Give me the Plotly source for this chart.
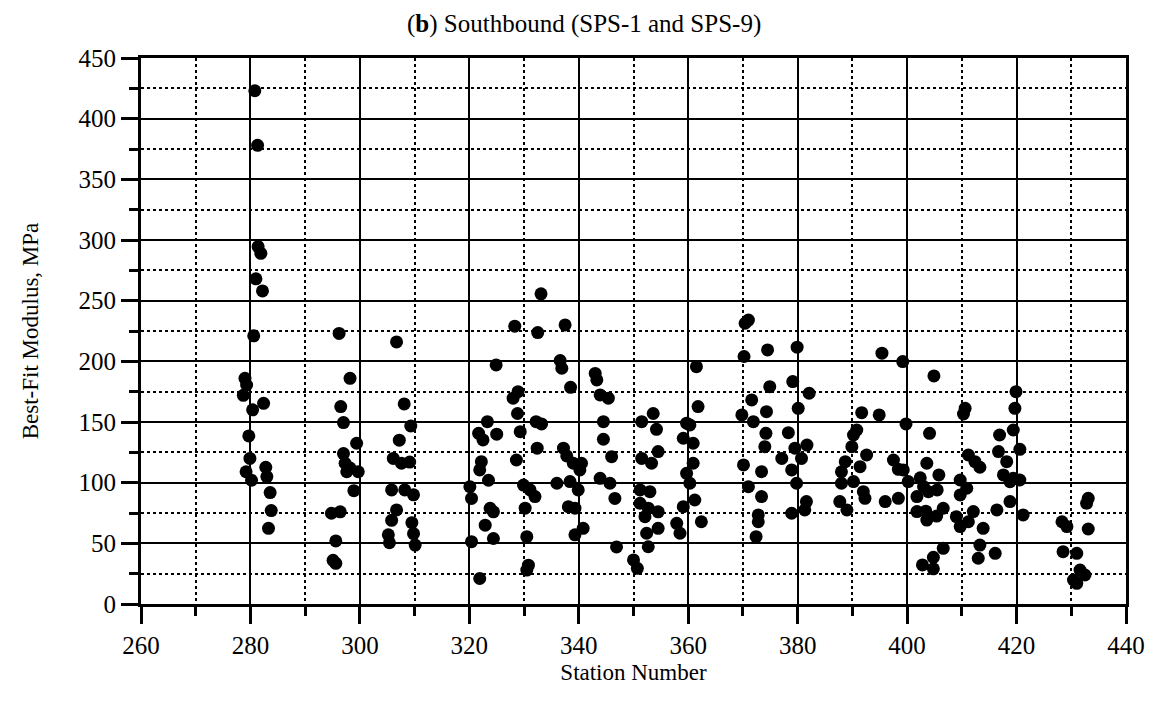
import plotly.graph_objects as go

# Station numbers and best-fit moduli (MPa)
station = [
    278.7, 279.0, 279.3, 279.7, 279.9, 279.2, 280.2, 280.4, 280.6, 280.8, 281.3, 281.4, 281.9, 281.0, 282.2,
    282.4, 282.8, 283.0, 283.6, 283.8, 283.3,
    294.8, 296.4, 295.6, 295.1, 295.6, 296.2, 298.2, 296.5, 297.0, 299.4, 297.0, 297.3, 298.2, 299.7, 297.6, 298.9,
    306.7, 308.1, 309.3, 307.2, 306.1, 307.6, 309.1, 305.8, 308.2, 309.8, 306.7, 305.8, 309.5, 309.8, 305.2, 305.4, 310.1,
    320.1, 320.4, 320.4, 321.9, 321.7, 322.5, 322.2, 321.9, 322.9, 323.3, 323.5, 323.8, 324.4, 324.4, 324.9, 325.0,
    328.3, 328.0, 328.9, 328.8, 329.3, 328.6, 329.9, 330.2, 330.5, 330.8, 330.5, 331.1, 332.0,
    333.1, 332.5, 332.2, 333.2, 332.4,
    336.0, 336.6, 336.9, 337.5, 337.2, 337.8, 338.4, 338.1, 338.5, 339.0, 339.3, 339.3, 339.9, 340.2, 340.5, 340.8,
    343.0, 343.3, 343.9, 343.9, 344.5, 344.5, 345.4, 345.7, 346.0, 346.6, 346.9,
    350.0, 350.7, 351.2, 351.2, 351.5, 351.5, 352.1, 352.4, 352.7, 352.7, 353.0, 353.3, 353.6, 354.2, 354.5, 354.5,
    354.5, 357.9, 358.5, 359.1, 359.1, 359.7, 359.7, 360.3, 360.3, 360.9, 360.9, 361.2, 361.5, 361.8, 362.4,
    369.8, 370.1, 370.2, 370.4, 371.0, 371.0, 371.6, 371.9, 372.4, 372.8, 372.8, 373.4, 373.4, 374.0, 374.2, 374.3,
    374.5, 374.9, 377.1, 378.3, 378.9, 378.9, 379.1, 379.5, 379.8, 379.9, 380.1, 380.7, 381.3, 381.6, 381.7, 382.1,
    387.7, 388.0, 388.0, 388.7, 389.0, 389.9, 390.2, 390.2, 390.8, 391.4, 391.7, 392.0, 392.3, 392.6,
    394.9, 395.4, 396.0, 397.5, 398.4, 398.4, 399.2, 399.8, 399.3, 400.2, 401.8, 401.8, 402.4, 402.8, 403.0, 403.4,
    403.6, 403.6, 403.9, 404.1, 404.8, 404.8, 404.9, 405.4, 405.5, 405.8, 406.6, 406.6,
    409.0, 409.7, 409.7, 409.7, 410.3, 410.6, 410.9, 411.2, 411.2, 412.1, 412.4, 413.0, 413.3, 413.3, 413.9,
    416.1, 416.4, 416.7, 416.9, 417.6, 418.2, 418.8, 418.8, 419.4, 419.4, 419.7, 419.9, 420.6, 420.6, 421.2,
    433.1, 432.8, 428.3, 429.2, 433.1, 428.5, 431.0, 431.6, 432.5, 430.4, 431.0,
]
modulus = [
    172, 186, 180.5, 138.5, 120, 109, 102, 160, 221, 423, 378, 294.6, 289, 268, 258,
    165.4, 112.7, 105, 91.8, 77, 62.4,
    74.8, 76, 52, 36, 33.5, 223, 186, 162.7, 149.5, 132.5, 124, 116, 112, 109, 109, 93.4,
    216, 164.9, 146.7, 135, 120, 116, 117, 94, 94, 90, 77.5, 69, 67, 58, 57, 50.5, 48.6,
    96.7, 87, 51.4, 21, 140.7, 135.2, 117.3, 110.5, 65, 150.3, 102, 78.9, 76, 54, 197, 140,
    229, 169.6, 175, 157, 142, 118.7, 98, 79, 55.5, 32, 28, 94, 88.5,
    255.6, 223.7, 150.3, 148.4, 128.4,
    99.5, 200.6, 194.3, 230, 128.4, 122, 100.9, 80.2, 178.6, 116, 79, 57, 94, 110.5, 116, 62.4,
    190, 184.7, 172.3, 103.6, 150.3, 135.8, 169.6, 99.5, 121.4, 87, 47,
    36.3, 29.4, 94, 83, 150.3, 120, 72, 58.3, 79, 47.2, 92.6, 116, 157, 144, 125.6, 76,
    62.4, 66.5, 58.3, 80.2, 136.6, 149, 107.7, 99.5, 147.6, 132.5, 116, 85.7, 195.6, 162.7, 67.8,
    155.8, 114.6, 204, 231.4, 234, 96.7, 168.2, 150.3, 55.5, 73.4, 67.8, 109.1, 88.5, 129.7, 140.7, 158.5,
    209.4, 179.1, 120, 141.2, 110.5, 74.8, 183.3, 128.4, 99.5, 211.7, 161.3, 120, 77.5, 84.4, 131, 173.7,
    84.4, 109, 99.5, 117.3, 77.5, 129.7, 100.9, 139.3, 143.4, 113.2, 157.7, 92.6, 87.1, 122.8,
    155.8, 206.7, 84.4, 118.7, 111, 87.1, 199.8, 148.4, 110.5, 100.9, 76.2, 88.5, 104, 32.2, 96.8, 76.5,
    116, 69.2, 92.6, 140.7, 29, 38.5, 188, 72.5, 94, 106.4, 78.9, 45.9,
    72, 63.8, 102.2, 89.9, 156.6, 161.3, 95.4, 122.8, 67.8, 76.2, 117.3, 37.7, 112.7, 48.6, 62.4,
    41.8, 77.5, 125.6, 139.3, 106.4, 117.3, 100.8, 84.4, 143.4, 103.6, 161.3, 175, 127.5, 102.2, 73.4,
    87.1, 83, 67.8, 63.8, 61.8, 43.1, 41.8, 28, 23.9, 19.8, 17,
]

x_ticks = [260, 280, 300, 320, 340, 360, 380, 400, 420, 440]
y_ticks = [0, 50, 100, 150, 200, 250, 300, 350, 400, 450]

title_text = "(<b>b</b>) Southbound (SPS-1 and SPS-9)"
x_title = "Station Number"
y_title = "Best-Fit Modulus, MPa"

FONT = "Liberation Serif, Times New Roman, serif"

fig = go.Figure()
fig.add_trace(go.Scatter(
    x=station, y=modulus, mode="markers",
    marker=dict(color="black", size=13, line=dict(width=0)),
    showlegend=False,
))

axis_common = dict(
    showline=True, linewidth=3, linecolor="black", mirror=True,
    showgrid=True, gridcolor="black", gridwidth=2,
    ticks="outside", ticklen=17, tickwidth=3, tickcolor="black",
    zeroline=False,
    tickfont=dict(family=FONT, size=25, color="black"),
)

fig.update_xaxes(
    range=[260, 440], tickvals=x_ticks, ticktext=[str(v) for v in x_ticks],
    minor=dict(dtick=10, tick0=260, showgrid=True, griddash="dot", gridcolor="black",
               gridwidth=1.5, ticks="outside", ticklen=9, tickwidth=3, tickcolor="black"),
    title=dict(text=x_title, font=dict(family=FONT, size=23, color="black"), standoff=6),
    **axis_common,
)
fig.update_yaxes(
    range=[0, 450], tickvals=y_ticks, ticktext=[str(v) for v in y_ticks],
    minor=dict(dtick=25, tick0=0, showgrid=True, griddash="dot", gridcolor="black",
               gridwidth=1.5, ticks="outside", ticklen=9, tickwidth=3, tickcolor="black"),
    title=dict(text=y_title, font=dict(family=FONT, size=23, color="black"), standoff=34),
    **axis_common,
)

fig.update_layout(
    width=1159, height=713,
    margin=dict(l=133, r=41, t=50, b=117),
    paper_bgcolor="white", plot_bgcolor="white",
    font=dict(family=FONT, color="black"),
    annotations=[dict(
        text=title_text, xref="paper", yref="paper", x=0.45, y=1.0, yshift=18,
        xanchor="center", yanchor="bottom", showarrow=False,
        font=dict(family=FONT, size=25, color="black"),
    )],
)

fig.write_html("out.html")
